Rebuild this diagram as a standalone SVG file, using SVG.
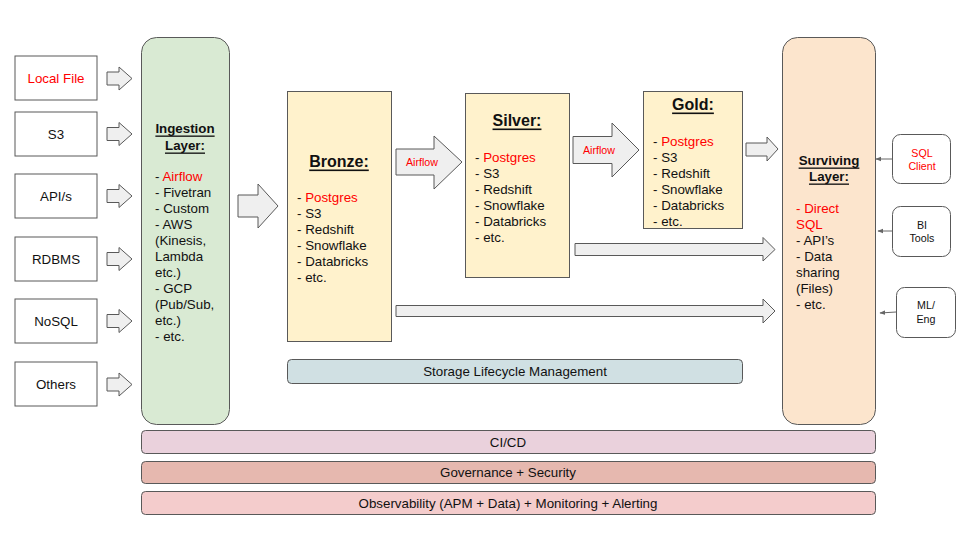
<svg xmlns="http://www.w3.org/2000/svg" xmlns:xlink="http://www.w3.org/1999/xlink" width="960" height="540" viewBox="0 0 960 540">
<style>
text{font-family:"Liberation Sans",Arial,sans-serif;font-size:13.33px;fill:#111;}
.c{text-anchor:middle;dominant-baseline:central;}
.l{dominant-baseline:central;}
.red{fill:#ff0000;}
.h{font-weight:bold;text-decoration:underline;}
.h16{font-size:16px;}
.sm{font-size:10.67px;}
.src{fill:#fff;stroke:#595959;stroke-width:1;}
.layer{stroke:#595959;stroke-width:1;}
.arr{fill:#efefef;stroke:#595959;stroke-width:1;}
.thin{stroke:#666;stroke-width:1;fill:none;}
</style>
<defs>
<polygon id="srcArrow" points="0,-6.5 12,-6.5 12,-11.5 25,0 12,11.5 12,6.5 0,6.5" class="arr"/>
<marker id="ah" viewBox="0 0 10 10" refX="9" refY="5" markerWidth="6" markerHeight="6" orient="auto">
<path d="M0,1 L10,5 L0,9 z" fill="#666"/>
</marker>
</defs>
<rect width="960" height="540" fill="#fff"/>

<g id="src-localfile"><rect class="src" x="15" y="56" width="82" height="44"/><text class="c red" x="56" y="78">Local File</text></g>
<g id="src-s3"><rect class="src" x="15" y="112" width="82" height="44"/><text class="c" x="56" y="134">S3</text></g>
<g id="src-apis"><rect class="src" x="15" y="174" width="82" height="44"/><text class="c" x="56" y="196">API/s</text></g>
<g id="src-rdbms"><rect class="src" x="15" y="237" width="82" height="44"/><text class="c" x="56" y="259">RDBMS</text></g>
<g id="src-nosql"><rect class="src" x="15" y="299" width="82" height="44"/><text class="c" x="56" y="321">NoSQL</text></g>
<g id="src-others"><rect class="src" x="15" y="362" width="82" height="44"/><text class="c" x="56" y="384">Others</text></g>

<g id="ingestion">
<rect class="layer" x="141.5" y="37.5" width="88" height="387" rx="15" fill="#d9ead3"/>
<text class="c h" x="185" y="128">Ingestion</text>
<text class="c h" x="185" y="145">Layer:</text>
<text class="l" x="155" y="176">- <tspan class="red">Airflow</tspan></text>
<text class="l" x="155" y="192">- Fivetran</text>
<text class="l" x="155" y="208">- Custom</text>
<text class="l" x="155" y="224">- AWS</text>
<text class="l" x="155" y="240">(Kinesis,</text>
<text class="l" x="155" y="256">Lambda</text>
<text class="l" x="155" y="272">etc.)</text>
<text class="l" x="155" y="288">- GCP</text>
<text class="l" x="155" y="304">(Pub/Sub,</text>
<text class="l" x="155" y="320">etc.)</text>
<text class="l" x="155" y="336">- etc.</text>
</g>

<g id="bronze">
<rect class="layer" x="287.5" y="91.5" width="104" height="250" fill="#fff2cc"/>
<text class="c h h16" x="339" y="161">Bronze:</text>
<text class="l" x="297" y="197">- <tspan class="red">Postgres</tspan></text>
<text class="l" x="297" y="213">- S3</text>
<text class="l" x="297" y="229">- Redshift</text>
<text class="l" x="297" y="245">- Snowflake</text>
<text class="l" x="297" y="261">- Databricks</text>
<text class="l" x="297" y="277">- etc.</text>
</g>

<g id="silver">
<rect class="layer" x="465.5" y="93.5" width="104" height="184" fill="#fff2cc"/>
<text class="c h h16" x="517" y="120">Silver:</text>
<text class="l" x="475" y="157">- <tspan class="red">Postgres</tspan></text>
<text class="l" x="475" y="173">- S3</text>
<text class="l" x="475" y="189">- Redshift</text>
<text class="l" x="475" y="205">- Snowflake</text>
<text class="l" x="475" y="221">- Databricks</text>
<text class="l" x="475" y="237">- etc.</text>
</g>

<g id="gold">
<rect class="layer" x="643.5" y="91.5" width="99" height="137" fill="#fff2cc"/>
<text class="c h h16" x="693" y="104">Gold:</text>
<text class="l" x="653" y="141">- <tspan class="red">Postgres</tspan></text>
<text class="l" x="653" y="157">- S3</text>
<text class="l" x="653" y="173">- Redshift</text>
<text class="l" x="653" y="189">- Snowflake</text>
<text class="l" x="653" y="205">- Databricks</text>
<text class="l" x="653" y="221">- etc.</text>
</g>

<g id="surviving">
<rect class="layer" x="782.5" y="37.5" width="93" height="387" rx="15" fill="#fce5cd"/>
<text class="c h" x="829" y="160">Surviving</text>
<text class="c h" x="829" y="176">Layer:</text>
<text class="l red" x="796" y="208">- Direct</text>
<text class="l red" x="796" y="224">SQL</text>
<text class="l" x="796" y="240">- API’s</text>
<text class="l" x="796" y="256">- Data</text>
<text class="l" x="796" y="272">sharing</text>
<text class="l" x="796" y="288">(Files)</text>
<text class="l" x="796" y="304">- etc.</text>
</g>

<g id="client-sql"><rect class="src" x="892.5" y="134.5" width="58" height="49" rx="8"/><text class="c sm red" x="922" y="153">SQL</text><text class="c sm red" x="922" y="166">Client</text></g>
<g id="client-bi"><rect class="src" x="892.5" y="206.5" width="58" height="50" rx="8"/><text class="c sm" x="922" y="225">BI</text><text class="c sm" x="922" y="238">Tools</text></g>
<g id="client-ml"><rect class="src" x="896.5" y="287.5" width="59" height="50" rx="8"/><text class="c sm" x="926" y="305">ML/</text><text class="c sm" x="926" y="319">Eng</text></g>

<g id="storage"><rect class="layer" x="287.5" y="359.5" width="455" height="24" rx="4" fill="#d0e0e3"/><text class="c" x="515" y="371.5">Storage Lifecycle Management</text></g>
<g id="cicd"><rect class="layer" x="141.5" y="430.5" width="734" height="23" rx="4" fill="#ead1dc"/><text class="c" x="508" y="442">CI/CD</text></g>
<g id="governance"><rect class="layer" x="141.5" y="461.5" width="734" height="22" rx="4" fill="#e6b8af"/><text class="c" x="508" y="472.5">Governance + Security</text></g>
<g id="observability"><rect class="layer" x="141.5" y="491.5" width="734" height="23" rx="4" fill="#f4cccc"/><text class="c" x="508" y="503">Observability (APM + Data) + Monitoring + Alerting</text></g>

<g id="connectors">
<use xlink:href="#srcArrow" href="#srcArrow" x="107" y="78.5"/>
<use xlink:href="#srcArrow" href="#srcArrow" x="107" y="134"/>
<use xlink:href="#srcArrow" href="#srcArrow" x="107" y="196"/>
<use xlink:href="#srcArrow" href="#srcArrow" x="107" y="259"/>
<use xlink:href="#srcArrow" href="#srcArrow" x="107" y="321"/>
<use xlink:href="#srcArrow" href="#srcArrow" x="107" y="384.5"/>
<polygon class="arr" points="238,195 258,195 258,184 278,206 258,228 258,217 238,217"/>
<polygon class="arr" points="396,149 434,149 434,136 462,162 434,189 434,175 396,175"/>
<text class="c sm red" x="422" y="162">Airflow</text>
<polygon class="arr" points="573,136.5 612,136.5 612,123 639,150 612,177 612,163.5 573,163.5"/>
<text class="c sm red" x="599" y="149.5">Airflow</text>
<polygon class="arr" points="746,143 767,143 767,137 778,149 767,161 767,156 746,156"/>
<polygon class="arr" points="575,243.5 763,243.5 763,237.5 775,249.5 763,261 763,255.5 575,255.5"/>
<polygon class="arr" points="396,305.5 763,305.5 763,299 775,311 763,323 763,316.5 396,316.5"/>
<line class="thin" x1="892" y1="159" x2="876" y2="159" marker-end="url(#ah)"/>
<line class="thin" x1="892" y1="231" x2="878" y2="231" marker-end="url(#ah)"/>
<line class="thin" x1="896" y1="312" x2="880" y2="313" marker-end="url(#ah)"/>
</g>
</svg>
